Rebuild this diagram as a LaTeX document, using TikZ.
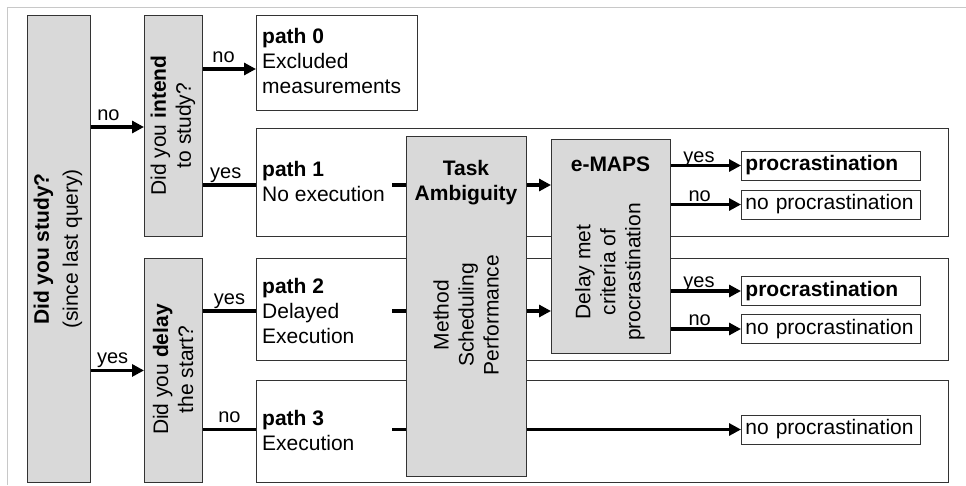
\documentclass[tikz,border=0pt]{standalone}
\usepackage{fontspec}
\setmainfont{Liberation Sans}
\usetikzlibrary{arrows.meta,calc}
\definecolor{boxgray}{HTML}{D9D9D9}
\definecolor{framegray}{HTML}{C8C8C8}
\definecolor{edge}{HTML}{333333}
\begin{document}
\begin{tikzpicture}[x=1pt,y=-1pt,
  every node/.style={font=\fontsize{21}{25}\selectfont},
  gbox/.style={draw=edge, line width=0.9pt, fill=boxgray, inner sep=0pt, anchor=north west},
  pbox/.style={draw=edge, line width=0.9pt, fill=white, inner sep=0pt, anchor=north west},
  obox/.style={draw=edge, line width=0.9pt, fill=white, inner xsep=4pt, inner ysep=0pt,
    minimum height=29pt, text width=171pt, align=left, anchor=west},
  ptext/.style={anchor=north west, align=left, inner sep=0pt},
  rtext/.style={rotate=90, align=center, inner sep=0pt},
  arr/.style={line width=3.5pt, -{Triangle[length=12pt,width=12pt]}},
  link/.style={line width=3.5pt},
  lbl/.style={anchor=base, yshift=7pt, inner sep=0pt, font=\fontsize{20}{23}\selectfont},
  lbltight/.style={anchor=base, yshift=3.5pt, inner sep=0pt, font=\fontsize{20}{23}\selectfont},
]
\useasboundingbox (0,0) rectangle (966,485);
% outer frame (top and left edges)
\draw[framegray, line width=1pt] (7,485) -- (7,7) -- (966,7);

% decision boxes
\node[gbox, minimum width=63pt, minimum height=467pt] (study) at (27,15) {};
\node[gbox, minimum width=58pt, minimum height=221pt] (intend) at (144,15) {};
\node[gbox, minimum width=58pt, minimum height=224pt] (delay) at (144,258) {};

% path boxes
\node[pbox, minimum width=161pt, minimum height=95pt] (p0) at (256,15) {};
\node[pbox, minimum width=692pt, minimum height=108pt] (p1) at (256,128) {};
\node[pbox, minimum width=692pt, minimum height=102pt] (p2) at (256,258) {};
\node[pbox, minimum width=692pt, minimum height=102pt] (p3) at (256,380) {};

% task ambiguity and e-MAPS boxes
\node[gbox, minimum width=120pt, minimum height=340pt] (task) at (406,136) {};
\node[gbox, minimum width=119pt, minimum height=214pt] (emaps) at (551,139) {};

% outcome boxes
\node[obox] (o1) at (741,165.5) {\textbf{procrastination}};
\node[obox] (o2) at (741,204.5) {no procrastination};
\node[obox] (o3) at (741,291) {\textbf{procrastination}};
\node[obox] (o4) at (741,329) {no procrastination};
\node[obox] (o5) at (741,429.5) {no procrastination};

% texts
\node[rtext] (tstudy) at (58,249) {\textbf{Did you study?}\\[4pt](since last query)};
\node[rtext] (tintend) at (173,125.5) {Did you \textbf{intend}\\to study?};
\node[rtext] (tdelay) at (173,369.5) {Did you \textbf{delay}\\the start?};
\node[ptext] (tp0) at (262,27.7) {\textbf{path 0}\\Excluded\\measurements};
\node[ptext] (tp1) at (262,161.4) {\textbf{path 1}\\No execution};
\node[ptext] (tp2) at (262,277.7) {\textbf{path 2}\\Delayed\\Execution};
\node[ptext] (tp3) at (262,409.7) {\textbf{path 3}\\Execution};
\node[anchor=north, align=center, inner sep=0pt] (ttask) at (466,159.7) {\textbf{Task}\\\textbf{Ambiguity}};
\node[rtext] (tmsp) at (466,315) {Method\\Scheduling\\Performance};
\node[anchor=north, inner sep=0pt] (temaps) at (610.5,156.7) {\textbf{e-MAPS}};
\node[rtext] (tdelaymet) at (610,272) {Delay met\\criteria of\\procrastination};

% row coordinates
\coordinate (r0) at (0,69);
\coordinate (r1) at (392,185);
\coordinate (r2) at (392,311);
\coordinate (r3) at (392,429.5);

% first level
\draw[arr] (study.east |- 0,127) -- (intend.west |- 0,127) node[lbl, pos=0.33] {no};
\draw[arr] (study.east |- delay.west) -- (delay.west) node[lbl, pos=0.41] {yes};

% second level
\draw[arr] (intend.east |- r0) -- (p0.west |- r0) node[lbl, pos=0.39] {no};
\draw[link] (intend.east |- r1) -- (p1.west |- r1) node[lbl, pos=0.43] {yes};
\draw[link] (delay.east |- r2) -- (p2.west |- r2) node[lbl, pos=0.5] {yes};
\draw[link] (delay.east |- r3) -- (p3.west |- r3) node[lbl, pos=0.5] {no};

% stubs into task ambiguity
\draw[link] (r1) -- (task.west |- r1);
\draw[link] (r2) -- (task.west |- r2);
\draw[link] (r3) -- (task.west |- r3);

% task ambiguity to e-MAPS / outcome
\draw[arr] (task.east |- r1) -- (emaps.west |- r1);
\draw[arr] (task.east |- r2) -- (emaps.west |- r2);
\draw[arr] (task.east |- o5.west) -- (o5.west);

% e-MAPS to outcomes
\draw[arr] (emaps.east |- o1.west) -- (o1.west) node[lbltight, pos=0.4] {yes};
\draw[arr] (emaps.east |- o2.west) -- (o2.west) node[lbltight, pos=0.41] {no};
\draw[arr] (emaps.east |- o3.west) -- (o3.west) node[lbltight, pos=0.4] {yes};
\draw[arr] (emaps.east |- o4.west) -- (o4.west) node[lbltight, pos=0.41] {no};
\end{tikzpicture}
\end{document}
